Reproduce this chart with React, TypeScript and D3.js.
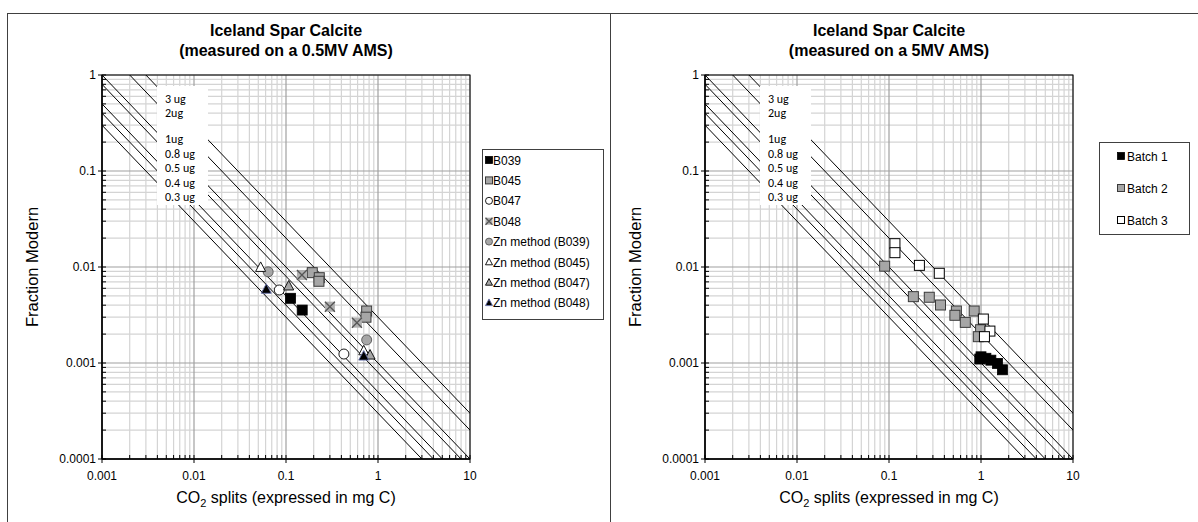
import React from "react";
import * as d3 from "d3";

// ---------- data ----------
const massTicks = [0.001, 0.01, 0.1, 1, 10];
const fmTicks = [0.0001, 0.001, 0.01, 0.1, 1];
const ugLines = [3, 2, 1, 0.8, 0.5, 0.4, 0.3];
const ugLabels = ["3 ug", "2ug", "1ug", "0.8 ug", "0.5 ug", "0.4 ug", "0.3 ug"];

// left chart (0.5MV AMS): [mg C, fraction modern]
const B039: [number, number][] = [[0.112, 0.00472], [0.15, 0.00356]];
const B045: [number, number][] = [[0.193, 0.00873], [0.23, 0.00774], [0.228, 0.0071], [0.753, 0.00348], [0.74, 0.003]];
const B047: [number, number][] = [[0.0845, 0.00576], [0.426, 0.00124]];
const B048: [number, number][] = [[0.149, 0.00826], [0.3, 0.00386], [0.59, 0.00263]];
const ZnB039: [number, number][] = [[0.064, 0.0089], [0.753, 0.00174]];
const ZnB045: [number, number][] = [[0.053, 0.0099], [0.7, 0.00134]];
const ZnB047: [number, number][] = [[0.107, 0.00634], [0.82, 0.00121]];
const ZnB048: [number, number][] = [[0.061, 0.00586], [0.7, 0.00118]];

// right chart (5MV AMS)
const Batch1: [number, number][] = [[1.0, 0.00116], [1.13, 0.00112], [1.28, 0.00107], [1.51, 0.00099], [1.71, 0.00085], [0.97, 0.0011]];
const Batch2: [number, number][] = [[0.0897, 0.0102], [0.184, 0.00491], [0.274, 0.00484], [0.363, 0.00402], [0.54, 0.00348], [0.52, 0.00314], [0.675, 0.00265], [0.843, 0.00348], [0.99, 0.00222], [0.935, 0.00188]];
const Batch3: [number, number][] = [[0.116, 0.0175], [0.116, 0.0141], [0.214, 0.0104], [0.352, 0.0086], [1.06, 0.00287], [1.25, 0.00215], [1.09, 0.00188]];

const leftSeriesNames = ["B039", "B045", "B047", "B048", "Zn method (B039)", "Zn method (B045)", "Zn method (B047)", "Zn method (B048)"];
const rightSeriesNames = ["Batch 1", "Batch 2", "Batch 3"];

// ---------- layout ----------
const W = 1198, H = 522;
const PX0 = 102, PX1 = 470, PY0 = 75, PY1 = 459;
const RIGHT_DX = 603;
const ARIAL = "'Liberation Sans', Arial, sans-serif";
const CAL = "Carlito, Lato, 'Open Sans', sans-serif";

type MarkerKind = "sqBlack" | "sqGray" | "sqWhite" | "circWhite" | "xGray" | "circGray" | "triWhite" | "triGray" | "triBlack";

function Marker({ kind, x, y, s }: { kind: MarkerKind; x: number; y: number; s: number }) {
  const h = s / 2;
  switch (kind) {
    case "sqBlack":
      return <rect x={x - h} y={y - h} width={s} height={s} fill="#000" stroke="#000" strokeWidth={0.8} />;
    case "sqGray":
      return <rect x={x - h} y={y - h} width={s} height={s} fill="#a6a6a6" stroke="#3a3a3a" strokeWidth={1} />;
    case "sqWhite":
      return <rect x={x - h} y={y - h} width={s} height={s} fill="#fff" stroke="#000" strokeWidth={1} />;
    case "circWhite":
      return <circle cx={x} cy={y} r={h} fill="#fff" stroke="#000" strokeWidth={0.9} />;
    case "circGray":
      return <circle cx={x} cy={y} r={h} fill="#a6a6a6" stroke="#555" strokeWidth={0.9} />;
    case "xGray":
      return (
        <g>
          <rect x={x - h} y={y - h} width={s} height={s} fill="#b0b0b0" />
          <path d={`M${x - h},${y - h}L${x + h},${y + h}M${x + h},${y - h}L${x - h},${y + h}`} stroke="#555" strokeWidth={1.3} />
        </g>
      );
    case "triWhite":
    case "triGray":
    case "triBlack": {
      const fill = kind === "triWhite" ? "#fff" : kind === "triGray" ? "#a6a6a6" : "#000";
      const stroke = kind === "triBlack" ? "#6670a8" : "#000";
      return <path d={`M${x},${y - h * 1.1}L${x + h},${y + h * 0.8}L${x - h},${y + h * 0.8}Z`} fill={fill} stroke={stroke} strokeWidth={0.9} />;
    }
  }
  return null;
}

const leftKinds: MarkerKind[] = ["sqBlack", "sqGray", "circWhite", "xGray", "circGray", "triWhite", "triGray", "triBlack"];
const leftData = [B039, B045, B047, B048, ZnB039, ZnB045, ZnB047, ZnB048];
const rightKinds: MarkerKind[] = ["sqBlack", "sqGray", "sqWhite"];
const rightData = [Batch1, Batch2, Batch3];

function Panel({ dx, title2, id, data, kinds }: { dx: number; title2: string; id: string; data: [number, number][][]; kinds: MarkerKind[] }) {
  const x = d3.scaleLog().domain([0.001, 10]).range([PX0 + dx, PX1 + dx]);
  const y = d3.scaleLog().domain([0.0001, 1]).range([PY1, PY0]);
  const minorX: number[] = [];
  for (let e = -3; e < 1; e++) for (let d = 1; d < 10; d++) minorX.push(d * Math.pow(10, e));
  minorX.push(10);
  const minorY: number[] = [];
  for (let e = -4; e < 0; e++) for (let d = 1; d < 10; d++) minorY.push(d * Math.pow(10, e));
  minorY.push(1);
  const isMajor = (v: number) => Math.abs(Math.log10(v) - Math.round(Math.log10(v))) < 1e-6;
  const cx = (PX0 + PX1) / 2 + dx;
  return (
    <g>
      <defs>
        <clipPath id={id}>
          <rect x={PX0 + dx} y={PY0} width={PX1 - PX0} height={PY1 - PY0} />
        </clipPath>
      </defs>
      {/* title */}
      <text x={cx} y={36} textAnchor="middle" fontFamily={ARIAL} fontWeight="bold" fontSize={16}>Iceland Spar Calcite</text>
      <text x={cx} y={56} textAnchor="middle" fontFamily={ARIAL} fontWeight="bold" fontSize={16}>{title2}</text>
      {/* grid */}
      {minorX.filter((v) => !isMajor(v)).map((v, i) => (
        <line key={"gx" + i} x1={x(v)} x2={x(v)} y1={PY0} y2={PY1} stroke="#d4d4d4" strokeWidth={1.2} />
      ))}
      {minorY.filter((v) => !isMajor(v)).map((v, i) => (
        <line key={"gy" + i} y1={y(v)} y2={y(v)} x1={PX0 + dx} x2={PX1 + dx} stroke="#d4d4d4" strokeWidth={1.2} />
      ))}
      {minorX.filter(isMajor).map((v, i) => (
        <line key={"gX" + i} x1={x(v)} x2={x(v)} y1={PY0} y2={PY1} stroke="#a0a0a0" strokeWidth={1.2} />
      ))}
      {minorY.filter(isMajor).map((v, i) => (
        <line key={"gY" + i} y1={y(v)} y2={y(v)} x1={PX0 + dx} x2={PX1 + dx} stroke="#a0a0a0" strokeWidth={1.2} />
      ))}
      {/* diagonal ug lines: F = (ug/1000) / mg */}
      <g clipPath={`url(#${id})`}>
        {ugLines.map((ug, i) => {
          const p = ug / 1000;
          const m0 = 1e-5, m1 = 100;
          return (
            <line key={"ug" + i} x1={x(m0)} y1={y(p / m0)} x2={x(m1)} y2={y(p / m1)} stroke="#000" strokeWidth={1} />
          );
        })}
      </g>
      {/* label box */}
      <rect x={PX0 + dx + 55} y={86} width={51} height={119} fill="#fff" />
      {ugLabels.map((t, i) => (
        <text key={"ul" + i} x={PX0 + dx + 63} y={[99, 113, 139, 154, 168, 183, 197][i] + 4} fontFamily={CAL} fontSize={12}>{t}</text>
      ))}
      {/* plot border */}
      <rect x={PX0 + dx} y={PY0} width={PX1 - PX0} height={PY1 - PY0} fill="none" stroke="#000" strokeWidth={1} />
      <line x1={PX0 + dx} x2={PX0 + dx} y1={PY0} y2={PY1} stroke="#000" strokeWidth={1.5} />
      <line x1={PX0 + dx} x2={PX1 + dx} y1={PY1} y2={PY1} stroke="#000" strokeWidth={1.5} />
      {/* ticks */}
      {minorX.map((v, i) => (
        <line key={"tx" + i} x1={x(v)} x2={x(v)} y1={isMajor(v) ? PY1 + 4 : PY1} y2={PY1 - 4} stroke="#000" strokeWidth={1} />
      ))}
      {minorY.map((v, i) => (
        <line key={"ty" + i} y1={y(v)} y2={y(v)} x1={isMajor(v) ? PX0 + dx - 4 : PX0 + dx} x2={PX0 + dx + 4} stroke="#000" strokeWidth={1} />
      ))}
      {massTicks.map((v, i) => (
        <text key={"xl" + i} x={x(v)} y={PY1 + 21} textAnchor="middle" fontFamily={ARIAL} fontSize={12}>{String(v)}</text>
      ))}
      {fmTicks.map((v, i) => (
        <text key={"yl" + i} x={PX0 + dx - 6} y={y(v) + 4} textAnchor="end" fontFamily={ARIAL} fontSize={12}>{v === 0.0001 ? "0.0001" : String(v)}</text>
      ))}
      {/* axis titles */}
      <text x={cx} y={503} textAnchor="middle" fontFamily={ARIAL} fontSize={16}>
        CO<tspan fontSize={11} dy={4}>2</tspan><tspan dy={-4}> splits (expressed in mg C)</tspan>
      </text>
      <text transform={`translate(${dx + 38},${(PY0 + PY1) / 2}) rotate(-90)`} textAnchor="middle" fontFamily={ARIAL} fontSize={16.5}>Fraction Modern</text>
      {/* data */}
      <g>
        {data.map((ser, si) =>
          ser.map((pt, pi) => <Marker key={si + "-" + pi} kind={kinds[si]} x={x(pt[0])} y={y(pt[1])} s={10} />)
        )}
      </g>
    </g>
  );
}

export default function App() {
  return (
    <svg width={W} height={H} style={{ display: "block", position: "absolute", left: 0, top: 0 }}>
      <rect x={0} y={0} width={W} height={H} fill="#fff" />
      <rect x={7.5} y={13.5} width={603} height={520} fill="none" stroke="#404040" strokeWidth={1} />
      <line x1={610.5} x2={610.5} y1={13.5} y2={H} stroke="#404040" />
      <line x1={610.5} x2={W} y1={13.5} y2={13.5} stroke="#404040" />
      <Panel dx={0} title2="(measured on a 0.5MV AMS)" id="clipL" data={leftData} kinds={leftKinds} />
      <Panel dx={RIGHT_DX} title2="(measured on a 5MV AMS)" id="clipR" data={rightData} kinds={rightKinds} />
      {/* left legend */}
      <rect x={482.5} y={149.5} width={121} height={170} fill="#fff" stroke="#404040" strokeWidth={1} />
      {leftSeriesNames.map((n, i) => {
        const yy = 160 + i * 20.4;
        return (
          <g key={"ll" + i}>
            <Marker kind={leftKinds[i]} x={489} y={yy} s={7} />
            <text x={493} y={yy + 4.5} fontFamily={ARIAL} fontSize={12}>{n}</text>
          </g>
        );
      })}
      {/* right legend */}
      <rect x={1099.5} y={142.5} width={90} height={92} fill="#fff" stroke="#404040" strokeWidth={1} />
      {rightSeriesNames.map((n, i) => {
        const yy = 156 + i * 32;
        return (
          <g key={"rl" + i}>
            <Marker kind={rightKinds[i]} x={1121} y={yy} s={7} />
            <text x={1127} y={yy + 4.5} fontFamily={ARIAL} fontSize={12}>{n}</text>
          </g>
        );
      })}
    </svg>
  );
}
